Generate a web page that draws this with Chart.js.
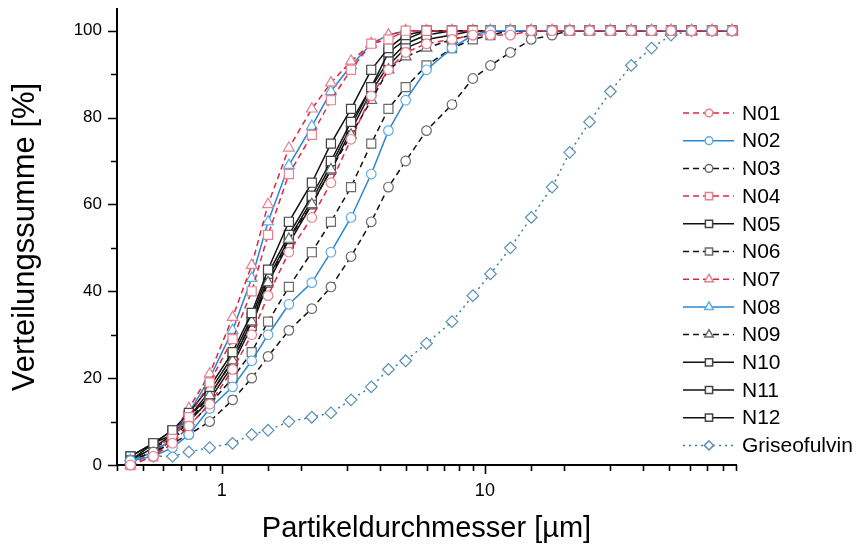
<!DOCTYPE html>
<html>
<head>
<meta charset="utf-8">
<script src="https://cdn.jsdelivr.net/npm/chart.js@4.4.0/dist/chart.umd.min.js"></script>
<style>
  html, body { margin: 0; padding: 0; background: #fff; }
  #wrap { width: 862px; height: 549px; }
</style>
</head>
<body>
<div id="wrap"><canvas id="psd" width="862" height="549"></canvas></div>
<script>
// particle size classes (upper band limits, µm)
const sizes = [0.45, 0.55, 0.65, 0.75, 0.9, 1.1, 1.3, 1.5, 1.8, 2.2, 2.6, 3.1, 3.7, 4.3, 5.0, 6.0, 7.5, 9.0, 10.5, 12.5, 15, 18, 21, 25, 30, 36, 43, 51, 61, 73, 87];

// cumulative distribution Q3 [%]
const n01 = [0, 2, 5, 9, 14, 22, 30, 39, 49, 57, 65, 75, 85, 91, 95, 97, 98, 99, 99, 99, 100, 100, 100, 100, 100, 100, 100, 100, 100, 100, 100];
const n02 = [1, 2, 4, 7, 13, 18, 24, 30, 37, 42, 49, 57, 67, 77, 84, 91, 96, 99, 100, 100, 100, 100, 100, 100, 100, 100, 100, 100, 100, 100, 100];
const n03 = [1, 3, 5, 7, 10, 15, 20, 25, 31, 36, 41, 48, 56, 64, 70, 77, 83, 89, 92, 95, 98, 99, 100, 100, 100, 100, 100, 100, 100, 100, 100];
const n04 = [0, 2, 6, 11, 19, 29, 40, 53, 67, 76, 84, 91, 97, 98, 100, 100, 100, 100, 100, 100, 100, 100, 100, 100, 100, 100, 100, 100, 100, 100, 100];
const n05 = [1, 5, 8, 12, 18, 26, 35, 45, 56, 65, 74, 82, 91, 96, 99, 100, 100, 100, 100, 100, 100, 100, 100, 100, 100, 100, 100, 100, 100, 100, 100];
const n06 = [1, 4, 6, 9, 14, 20, 26, 33, 41, 49, 56, 64, 74, 82, 87, 92, 96, 98, 99, 100, 100, 100, 100, 100, 100, 100, 100, 100, 100, 100, 100];
const n07 = [0, 3, 7, 13, 21, 34, 46, 60, 73, 82, 88, 93, 97, 99, 100, 100, 100, 100, 100, 100, 100, 100, 100, 100, 100, 100, 100, 100, 100, 100, 100];
const n08 = [1, 3, 6, 12, 20, 31, 43, 56, 69, 78, 86, 92, 97, 99, 100, 100, 100, 100, 100, 100, 100, 100, 100, 100, 100, 100, 100, 100, 100, 100, 100];
const n09 = [1, 3, 6, 10, 16, 24, 33, 42, 52, 60, 68, 76, 84, 91, 94, 96, 98, 99, 100, 100, 100, 100, 100, 100, 100, 100, 100, 100, 100, 100, 100];
const n10 = [2, 5, 8, 11, 17, 25, 34, 44, 53, 62, 70, 79, 87, 95, 98, 100, 100, 100, 100, 100, 100, 100, 100, 100, 100, 100, 100, 100, 100, 100, 100];
const n11 = [1, 4, 7, 11, 16, 24, 33, 43, 52, 61, 69, 78, 87, 93, 97, 99, 100, 100, 100, 100, 100, 100, 100, 100, 100, 100, 100, 100, 100, 100, 100];
const n12 = [2, 5, 7, 10, 15, 23, 32, 42, 51, 60, 68, 77, 86, 92, 96, 98, 99, 100, 100, 100, 100, 100, 100, 100, 100, 100, 100, 100, 100, 100, 100];
const griseo = [1, 2, 2, 3, 4, 5, 7, 8, 10, 11, 12, 15, 18, 22, 24, 28, 33, 39, 44, 50, 57, 64, 72, 79, 86, 92, 96, 99, 100, 100, 100];

const xTickLabels = [1, 10];
const yTickLabels = [0, 20, 40, 60, 80, 100];

const RED = '#e3263d', RED_PT = '#e8808e';
const BLUE = '#2b86d3', BLUE_PT = '#5fade6';
const BLACK = '#111111', GREY_PT = '#6a6a6a';
const TEAL = '#3a7f9e', TEAL_PT = '#5a8fb4';
const DASH = [6, 4];
const FONT = '"Liberation Sans", Arial, sans-serif';

function pts(vals) {
  return sizes.map((x, i) => ({ x: x, y: vals[i] }));
}

function series(label, vals, line, marker, dash, style, r) {
  return {
    label: label,
    data: pts(vals),
    borderColor: line,
    borderWidth: 1.5,
    borderDash: dash,
    pointStyle: style,
    pointRadius: r,
    pointBorderColor: marker,
    pointBackgroundColor: '#ffffff',
    pointBorderWidth: 1.2,
    tension: 0,
    clip: false
  };
}

const datasets = [
  series('N01', n01, RED, RED_PT, DASH, 'circle', 4.8),
  series('N02', n02, BLUE, BLUE_PT, [], 'circle', 4.8),
  series('N03', n03, BLACK, GREY_PT, DASH, 'circle', 4.8),
  series('N04', n04, RED, RED_PT, DASH, 'rect', 6.4),
  series('N05', n05, BLACK, '#444444', [], 'rect', 6.4),
  series('N06', n06, BLACK, GREY_PT, DASH, 'rect', 6.4),
  series('N07', n07, RED, RED_PT, DASH, 'triangle', 6.2),
  series('N08', n08, BLUE, BLUE_PT, [], 'triangle', 6.2),
  series('N09', n09, BLACK, GREY_PT, DASH, 'triangle', 6.2),
  series('N10', n10, BLACK, '#444444', [], 'rect', 6.4),
  series('N11', n11, BLACK, '#444444', [], 'rect', 6.4),
  series('N12', n12, BLACK, '#444444', [], 'rect', 6.4),
  series('Griseofulvin', griseo, TEAL, TEAL_PT, [2, 4], 'rectRot', 5.8)
];

// tick marks: long at labelled values, short otherwise
const tickMarks = {
  id: 'tickMarks',
  afterDraw(chart) {
    const ctx = chart.ctx;
    const xs = chart.scales.x, ys = chart.scales.y;
    ctx.save();
    ctx.strokeStyle = '#000';
    ctx.lineWidth = 1.6;
    ctx.beginPath();
    xs.ticks.forEach(t => {
      const px = Math.round(xs.getPixelForValue(t.value)) + 0.5;
      const major = xTickLabels.some(v => Math.abs(v - t.value) < 1e-9);
      ctx.moveTo(px, xs.top);
      ctx.lineTo(px, xs.top + (major ? 9 : 6));
    });
    ys.ticks.forEach(t => {
      const py = Math.round(ys.getPixelForValue(t.value)) + 0.5;
      const major = yTickLabels.includes(t.value);
      ctx.moveTo(ys.right, py);
      ctx.lineTo(ys.right - (major ? 9 : 6), py);
    });
    ctx.stroke();
    ctx.restore();
  }
};

// legend on the right with line sample + marker
const sideLegend = {
  id: 'sideLegend',
  afterDraw(chart) {
    const ctx = chart.ctx;
    chart.data.datasets.forEach((ds, i) => {
      const y = 113 + i * 27.7;
      ctx.save();
      ctx.strokeStyle = ds.borderColor;
      ctx.lineWidth = ds.borderWidth;
      ctx.setLineDash(ds.borderDash);
      ctx.beginPath();
      ctx.moveTo(683, y);
      ctx.lineTo(734, y);
      ctx.stroke();
      ctx.setLineDash([]);
      ctx.fillStyle = '#ffffff';
      ctx.strokeStyle = ds.pointBorderColor;
      Chart.helpers.drawPoint(ctx, {
        pointStyle: ds.pointStyle,
        radius: ds.pointRadius * 0.8,
        borderWidth: 1.2,
        rotation: 0
      }, 709, y);
      ctx.fillStyle = '#000';
      ctx.font = '21px ' + FONT;
      ctx.textBaseline = 'middle';
      ctx.fillText(ds.label, 742, y + 1);
      ctx.restore();
    });
  }
};

new Chart('psd', {
  type: 'line',
  data: { datasets: datasets },
  plugins: [tickMarks, sideLegend],
  options: {
    responsive: false,
    animation: false,
    layout: { padding: { left: 0, right: 126, top: 9, bottom: 0 } },
    plugins: {
      legend: { display: false },
      tooltip: { enabled: false }
    },
    scales: {
      x: {
        type: 'logarithmic',
        min: 0.4,
        max: 90,
        afterFit: s => { s.height = 84; s.paddingLeft = 0; s.paddingRight = 0; },
        border: { display: true, color: '#000', width: 2 },
        grid: { drawOnChartArea: false, drawTicks: true, tickLength: 9, color: 'rgba(0,0,0,0)' },
        ticks: {
          autoSkip: false,
          maxRotation: 0,
          padding: 6,
          color: '#000',
          font: { family: FONT, size: 18 },
          callback: v => xTickLabels.some(t => Math.abs(t - v) < 1e-9) ? String(Math.round(v)) : ''
        },
        title: {
          display: true,
          text: 'Partikeldurchmesser [µm]',
          color: '#000',
          font: { family: FONT, size: 29 },
          padding: { top: 0, bottom: 3 }
        }
      },
      y: {
        min: 0,
        max: 105,
        afterFit: s => { s.width = 117; s.paddingTop = 0; s.paddingBottom = 0; },
        border: { display: true, color: '#000', width: 2 },
        grid: { drawOnChartArea: false, drawTicks: true, tickLength: 9, color: 'rgba(0,0,0,0)' },
        ticks: {
          stepSize: 10,
          includeBounds: false,
          padding: 6,
          color: '#000',
          font: { family: FONT, size: 17 },
          callback: v => yTickLabels.includes(v) ? String(v) : ''
        },
        title: {
          display: true,
          text: 'Verteilungssumme [%]',
          color: '#000',
          font: { family: FONT, size: 31 },
          padding: { top: 7, bottom: 0 }
        }
      }
    }
  }
});
</script>
</body>
</html>
